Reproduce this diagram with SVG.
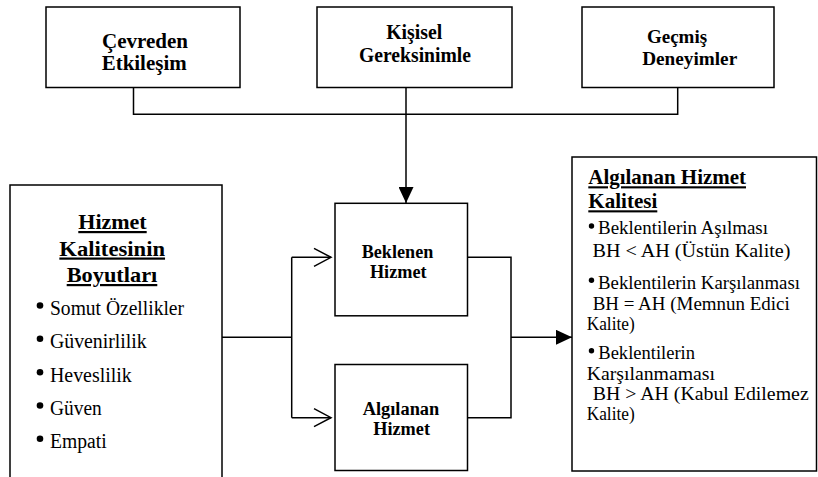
<svg xmlns="http://www.w3.org/2000/svg" width="818" height="477" viewBox="0 0 818 477">
<style>
.box{fill:#fff;stroke:#000;stroke-width:1.5}
.ln{fill:none;stroke:#000;stroke-width:1.5}
text{font-family:'Liberation Serif','Times New Roman',serif;fill:#000}
.b{font-weight:bold}
.t19{font-size:20px}
.t18{font-size:18px}
.t22{font-size:22px}
.t21{font-size:21px}
.l20{font-size:20px}
.r19{font-size:19px}
.c{text-anchor:middle}
.u{text-decoration:underline}
</style>
<defs>
<marker id="fill" markerUnits="userSpaceOnUse" markerWidth="16" markerHeight="15" refX="16" refY="7.5" orient="auto">
<path d="M0,0 L16,7.5 L0,15 Z" fill="#000"/>
</marker>
<marker id="open" markerUnits="userSpaceOnUse" markerWidth="20" markerHeight="22" refX="18" refY="11" orient="auto">
<path d="M1,2 L18,11 L1,20" fill="none" stroke="#000" stroke-width="1.5"/>
</marker>
</defs>
<rect width="818" height="477" fill="#fff"/>
<g id="connectors">
<path class="ln" d="M133.5 87.5 V114.3 H677.7 V87.5"/>
<path class="ln" d="M406 87.5 V203" marker-end="url(#fill)"/>
<path class="ln" d="M222 337.3 H291.7"/>
<path class="ln" d="M291.7 257.3 V417.7"/>
<path class="ln" d="M291.7 257.3 H331" marker-end="url(#open)"/>
<path class="ln" d="M291.7 417.7 H331" marker-end="url(#open)"/>
<path class="ln" d="M467.5 257.3 H511 V417.7 H467.5"/>
<path class="ln" d="M511 337.3 H572" marker-end="url(#fill)"/>
</g>
<g id="cevreden">
<rect class="box" x="46" y="7" width="194" height="80.5"/>
<text class="b t19 c" x="145" y="48" textLength="86" lengthAdjust="spacingAndGlyphs">Çevreden</text>
<text class="b t19 c" x="144.2" y="70" textLength="85" lengthAdjust="spacingAndGlyphs">Etkileşim</text>
</g>
<g id="kisisel">
<rect class="box" x="317" y="7" width="195" height="80.5"/>
<text class="b t19 c" x="414.2" y="38.5" textLength="56" lengthAdjust="spacingAndGlyphs">Kişisel</text>
<text class="b t19 c" x="415" y="61.5" textLength="112" lengthAdjust="spacingAndGlyphs">Gereksinimle</text>
</g>
<g id="gecmis">
<rect class="box" x="582" y="7" width="192" height="80.5"/>
<text class="b c" style="font-size:19px" x="677" y="42.5">Geçmiş</text>
<text class="b c" style="font-size:19px" x="689.7" y="64.5" textLength="95" lengthAdjust="spacingAndGlyphs">Deneyimler</text>
</g>
<g id="boyutlar">
<rect class="box" x="10" y="185" width="212" height="300"/>
<text class="b c u t22" x="112.5" y="229" textLength="68.4" lengthAdjust="spacingAndGlyphs">Hizmet</text>
<text class="b c u t22" x="112.2" y="255.5" textLength="105.7" lengthAdjust="spacingAndGlyphs">Kalitesinin</text>
<text class="b c u t22" x="112" y="282" textLength="90.6" lengthAdjust="spacingAndGlyphs">Boyutları</text>
<circle cx="40" cy="305.5" r="3.3"/>
<text class="l20" x="50" y="315" textLength="134" lengthAdjust="spacingAndGlyphs">Somut Özellikler</text>
<circle cx="40" cy="338.8" r="3.3"/>
<text class="l20" x="50" y="348.3" textLength="96.7" lengthAdjust="spacingAndGlyphs">Güvenirlilik</text>
<circle cx="40" cy="372.2" r="3.3"/>
<text class="l20" x="50" y="381.7" textLength="81.7" lengthAdjust="spacingAndGlyphs">Heveslilik</text>
<circle cx="40" cy="405.5" r="3.3"/>
<text class="l20" x="50" y="415" textLength="51.7" lengthAdjust="spacingAndGlyphs">Güven</text>
<circle cx="40" cy="438.8" r="3.3"/>
<text class="l20" x="50" y="448.3" textLength="56.7" lengthAdjust="spacingAndGlyphs">Empati</text>
</g>
<g id="beklenen">
<rect class="box" x="335" y="203.3" width="132.5" height="112.5"/>
<text class="b t18 c" x="397.5" y="258.3" textLength="71.6" lengthAdjust="spacingAndGlyphs">Beklenen</text>
<text class="b t18 c" x="398.3" y="278.3" textLength="56.7" lengthAdjust="spacingAndGlyphs">Hizmet</text>
</g>
<g id="algilanan">
<rect class="box" x="335" y="364.5" width="132.5" height="106"/>
<text class="b t18 c" x="401" y="415" textLength="76.6" lengthAdjust="spacingAndGlyphs">Algılanan</text>
<text class="b t18 c" x="401.6" y="435" textLength="56.7" lengthAdjust="spacingAndGlyphs">Hizmet</text>
</g>
<g id="kalite">
<rect class="box" x="572" y="157" width="244.5" height="314"/>
<text class="b u t21" x="588.3" y="184.3" textLength="157.7" lengthAdjust="spacingAndGlyphs">Algılanan Hizmet</text>
<text class="b u t21" x="588.3" y="208.3" textLength="69" lengthAdjust="spacingAndGlyphs">Kalitesi</text>
<circle cx="591.5" cy="226" r="2.7"/>
<text class="r19" x="598" y="234" textLength="170" lengthAdjust="spacingAndGlyphs">Beklentilerin Aşılması</text>
<text class="r19" x="592.5" y="256.5" textLength="198" lengthAdjust="spacingAndGlyphs">BH &lt; AH (Üstün Kalite)</text>
<circle cx="591.5" cy="280.3" r="2.7"/>
<text class="r19" x="598" y="288.5" textLength="202" lengthAdjust="spacingAndGlyphs">Beklentilerin Karşılanması</text>
<text class="r19" x="592.7" y="310" textLength="197" lengthAdjust="spacingAndGlyphs">BH = AH (Memnun Edici</text>
<text class="r19" x="586.7" y="330" textLength="48" lengthAdjust="spacingAndGlyphs">Kalite)</text>
<circle cx="591.5" cy="350.8" r="2.7"/>
<text class="r19" x="598.3" y="359" textLength="96.7" lengthAdjust="spacingAndGlyphs">Beklentilerin</text>
<text class="r19" x="586.7" y="379.5" textLength="128.3" lengthAdjust="spacingAndGlyphs">Karşılanmaması</text>
<text class="r19" x="592.7" y="400" textLength="216" lengthAdjust="spacingAndGlyphs">BH &gt; AH (Kabul Edilemez</text>
<text class="r19" x="586.7" y="420" textLength="48" lengthAdjust="spacingAndGlyphs">Kalite)</text>
</g>
</svg>
